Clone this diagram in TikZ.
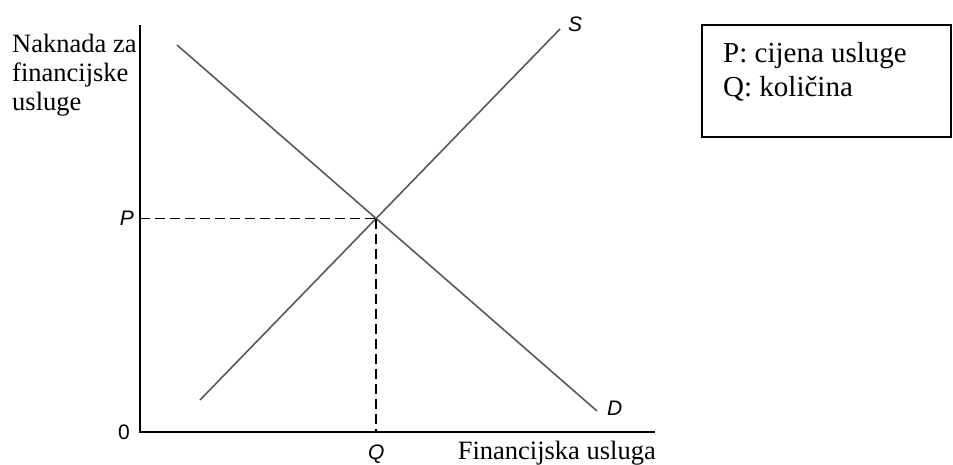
\documentclass[tikz,border=0pt]{standalone}
\usepackage{fontspec}
\setmainfont{Liberation Serif}
\newfontfamily\varfont{Liberation Sans}
\usepackage{tikz}
\usetikzlibrary{positioning}

\begin{document}
\begin{tikzpicture}[
    x=1pt, y=-1pt,
    axis/.style={line width=2pt, black},
    curve/.style={line width=1.6pt, black!65},
    guide/.style={line width=1.8pt, dash pattern=on 10pt off 5pt},
    varlabel/.style={font=\varfont\fontsize{21}{21}\selectfont\itshape, inner sep=0pt},
    axislabel/.style={font=\fontsize{26.5}{29}\selectfont, align=left, inner sep=0pt},
    legend/.style={rectangle, draw, line width=1.8pt, minimum width=249pt, minimum height=112pt, inner sep=0pt},
    legendtext/.style={font=\fontsize{29}{33}\selectfont, inner sep=0pt}
]
\useasboundingbox (0,0) rectangle (953,465);

% axes
\coordinate (O) at (140,432);
\coordinate (ytop) at (140,25);
\coordinate (xend) at (655,432);
\draw[axis] (ytop) -- (O) -- (xend);

% supply and demand
\coordinate (S1) at (200,400);
\coordinate (S2) at (560,29);
\coordinate (D1) at (177,45);
\coordinate (D2) at (597,411);
\draw[curve] (S1) -- (S2);
\draw[curve] (D1) -- (D2);

% equilibrium
\coordinate (E) at (intersection of S1--S2 and D1--D2);
\draw[guide] (O |- E) -- (E);
\draw[guide] (E) -- (E |- O);

% labels
\node[varlabel, left=6pt of {O |- E}] (P) {P};
\node[varlabel, below=13pt of {E |- O}] (Q) {Q};
\node[font=\varfont\fontsize{21}{21}\selectfont, inner sep=0pt, left=10pt of O] (zero) {0};
\node[varlabel, anchor=south west] (S) at ([xshift=8pt, yshift=-3pt]S2) {S};
\node[varlabel, right=10pt of D2, yshift=2.5pt] (D) {D};

\node[axislabel, anchor=north west] (ylabel) at (12,34) {Naknada za\\financijske\\usluge};
\node[axislabel, anchor=base east] (xlabel) at (656,459) {Financijska usluga};

% legend box
\node[legend] (legend) at (826.5,81) {};
\node[legendtext, anchor=base west] (legP) at (723,63) {P: cijena usluge};
\node[legendtext, anchor=base west] (legQ) at (723,97) {Q: količina};

\end{tikzpicture}
\end{document}
